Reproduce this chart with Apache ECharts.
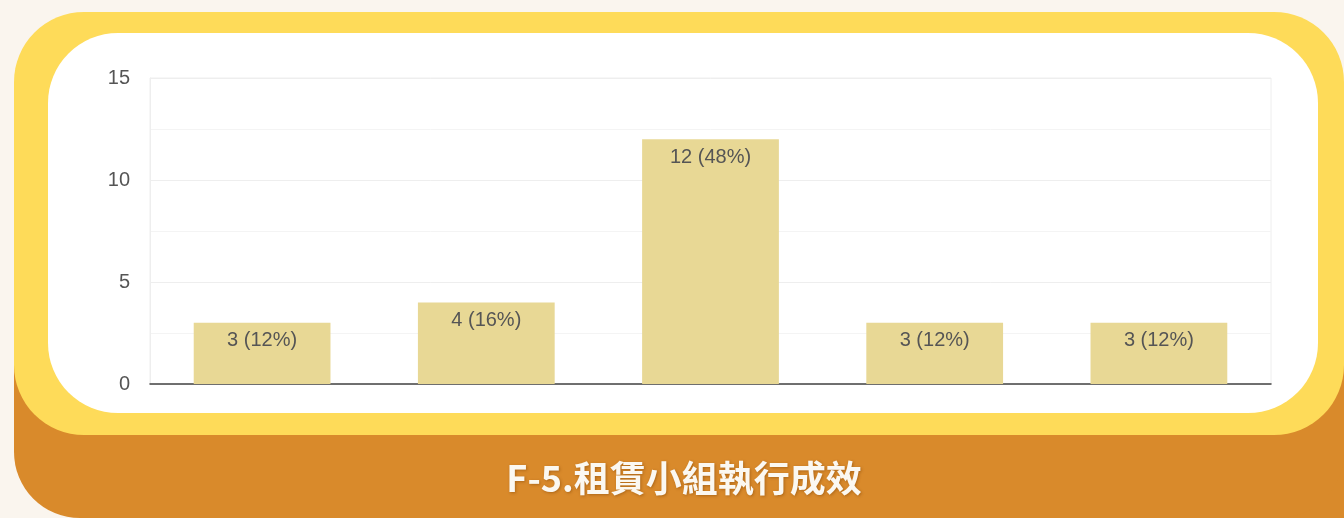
<!DOCTYPE html>
<html>
<head>
<meta charset="utf-8">
<style>
  html, body { margin: 0; padding: 0; background: #faf5ee; }
  #chart { width: 1344px; height: 518px; }
</style>
<script src="https://cdn.jsdelivr.net/npm/echarts@6/dist/echarts.min.js"></script>
</head>
<body>
<div id="chart"></div>
<script>
// Responses per rating level
const categories = ['1', '2', '3', '4', '5'];
const counts = [3, 4, 12, 3, 3];
const percents = [12, 16, 48, 12, 12];
const yTicks = { min: 0, max: 15, interval: 5 };
const title = 'F-5.租賃小組執行成效';

const chart = echarts.init(document.getElementById('chart'), null, { renderer: 'canvas' });

chart.setOption({
  backgroundColor: '#faf5ee',
  animation: false,
  graphic: [
    // orange base card (top hidden under the yellow frame)
    { type: 'rect', z: -30, shape: { x: 14, y: 200, width: 1400, height: 318, r: [0, 0, 0, 66] },
      style: { fill: '#d98a2b' } },
    { type: 'rect', z: -30, shape: { x: 1200, y: 200, width: 144, height: 318, r: [0, 0, 66, 0] },
      style: { fill: '#d98a2b' } },
    // yellow frame
    { type: 'rect', z: -20, shape: { x: 14, y: 12, width: 1330, height: 423, r: 70 },
      style: { fill: '#fedb59' } },
    // white panel
    { type: 'rect', z: -10, shape: { x: 48, y: 33, width: 1270, height: 380, r: 70 },
      style: { fill: '#ffffff' } },
    // caption
    { type: 'text', z: 10, x: 684, y: 478,
      style: { text: title, fill: '#fbf8f1', align: 'center', verticalAlign: 'middle',
               font: 'bold 36px "Noto Sans CJK TC", "Noto Sans", sans-serif',
               textShadowColor: 'rgba(120,60,0,0.45)', textShadowBlur: 3, textShadowOffsetX: 1, textShadowOffsetY: 1 } }
  ],
  grid: { left: 150, right: 73, top: 78, bottom: 134, show: true, borderColor: '#eeeeee', borderWidth: 1 },
  xAxis: {
    type: 'category',
    data: categories,
    axisLabel: { show: false },
    axisTick: { show: false },
    axisLine: { show: true, lineStyle: { color: '#444444', width: 1.5 } },
    splitLine: { show: false }
  },
  yAxis: {
    type: 'value',
    min: yTicks.min, max: yTicks.max, interval: yTicks.interval,
    axisLine: { show: true, lineStyle: { color: '#eeeeee' } },
    axisTick: { show: false },
    axisLabel: { color: '#555555', fontSize: 20, fontFamily: 'Arial, "Liberation Sans", sans-serif', margin: 20 },
    splitLine: { show: true, lineStyle: { color: '#eeeeee', width: 1 } },
    minorTick: { show: false, splitNumber: 2 },
    minorSplitLine: { show: true, lineStyle: { color: '#f4f4f4', width: 1 } }
  },
  series: [{
    type: 'bar',
    data: counts,
    barWidth: '61%',
    itemStyle: { color: '#e8d895' },
    label: {
      show: true,
      position: 'insideTop',
      distance: 8,
      color: '#555555',
      fontSize: 20,
      fontFamily: 'Arial, "Liberation Sans", sans-serif',
      formatter: p => p.value + ' (' + percents[p.dataIndex] + '%)'
    }
  }]
});
</script>
</body>
</html>
